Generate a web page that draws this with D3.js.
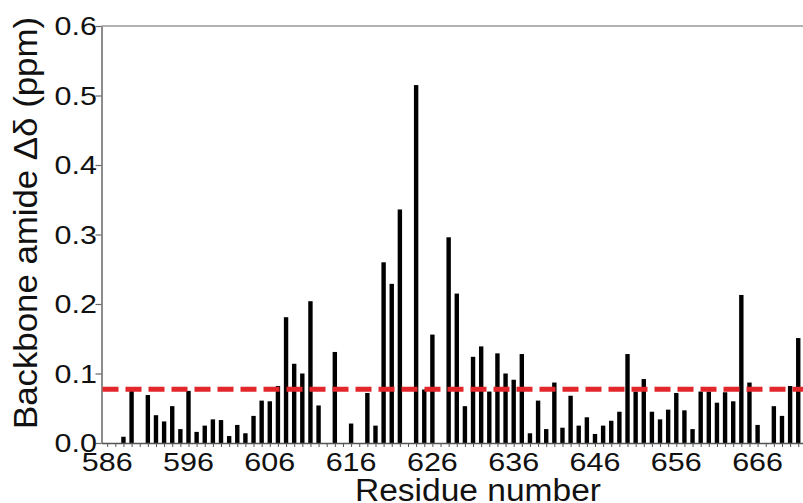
<!DOCTYPE html>
<html>
<head>
<meta charset="utf-8">
<script src="https://cdn.jsdelivr.net/npm/d3@7"></script>
<style>
  body { margin: 0; background: #fff; }
  text { font-family: Arial, "Liberation Sans", sans-serif; fill: #111; }
</style>
</head>
<body>
<div id="chart"></div>
<script>
// residue numbers and their backbone amide chemical shift changes (ppm)
var residues = [588, 589, 591, 592, 593, 594, 595, 596, 597, 598, 599, 600,
    601, 602, 603, 604, 605, 606, 607, 608, 609, 610, 611, 612, 614, 616,
    618, 619, 620, 621, 622, 624, 625, 626, 628, 629, 630, 631, 632, 633,
    634, 635, 636, 637, 638, 639, 640, 641, 642, 643, 644, 645, 646, 647,
    648, 649, 650, 651, 652, 653, 654, 655, 656, 657, 658, 659, 660, 661,
    662, 663, 664, 665, 666, 668, 669, 670, 671];
var shifts = [0.009, 0.075, 0.069, 0.040, 0.031, 0.053, 0.020, 0.075, 0.016, 0.025, 0.034, 0.033,
    0.010, 0.026, 0.014, 0.039, 0.061, 0.060, 0.082, 0.181, 0.114, 0.100, 0.204, 0.054, 0.131, 0.028,
    0.072, 0.025, 0.260, 0.229, 0.336, 0.515, 0.077, 0.156, 0.296, 0.215, 0.053, 0.124, 0.139, 0.074,
    0.129, 0.100, 0.091, 0.128, 0.014, 0.061, 0.020, 0.087, 0.022, 0.068, 0.025, 0.037, 0.013, 0.025,
    0.032, 0.045, 0.128, 0.074, 0.092, 0.045, 0.034, 0.048, 0.072, 0.047, 0.020, 0.074, 0.074, 0.058,
    0.073, 0.060, 0.213, 0.087, 0.026, 0.053, 0.039, 0.082, 0.151];
var xTicks = [586, 596, 606, 616, 626, 636, 646, 656, 666];
var yTicks = [0, 0.1, 0.2, 0.3, 0.4, 0.5, 0.6];
var threshold = 0.0775;

var width = 803, height = 503;
// note: "top" is taken by window.top, so use plot* names
var plotLeft = 101.5, plotTop = 26, plotBottom = 443;

var svg = d3.select("#chart").append("svg")
    .attr("width", width)
    .attr("height", height);

svg.append("rect").attr("width", width).attr("height", height).attr("fill", "#fff");

var x = d3.scaleLinear().domain([585.3, 672]).range([plotLeft, plotLeft + 86.7 * 8.13]);
var y = d3.scaleLinear().domain([0, 0.6]).range([plotBottom, plotTop]);

var data = residues.map(function(r, i) { return {res: r, val: shifts[i]}; });

// bars
var barW = 4.4;
svg.append("g").selectAll("rect")
    .data(data)
    .enter().append("rect")
    .attr("x", function(d) { return x(d.res) - barW / 2; })
    .attr("y", function(d) { return y(d.val); })
    .attr("width", barW)
    .attr("height", function(d) { return y(0) - y(d.val); })
    .attr("fill", "#000");

// top frame line
svg.append("line")
    .attr("x1", plotLeft).attr("x2", width)
    .attr("y1", y(0.6)).attr("y2", y(0.6))
    .attr("stroke", "#999").attr("stroke-width", 1.5);

// y axis
var yAxis = svg.append("g")
    .attr("transform", "translate(" + plotLeft + ",0)")
    .call(d3.axisLeft(y).tickValues(yTicks).tickSize(6).tickFormat("").tickSizeOuter(0));
yAxis.select(".domain").attr("stroke", "#666").attr("stroke-width", 1.5);
yAxis.selectAll(".tick line").attr("stroke", "#666").attr("stroke-width", 1.2);

yTicks.forEach(function(t) {
    svg.append("text")
        .attr("transform", "translate(97," + (y(t) + 9) + ") scale(1.22,1)")
        .attr("text-anchor", "end")
        .style("font-size", "25px")
        .text(d3.format(".1f")(t));
});

// x axis with a minor tick at every residue
var minor = d3.range(586, 672);
var xAxis = svg.append("g")
    .attr("transform", "translate(0," + plotBottom + ")")
    .call(d3.axisBottom(x).tickValues(minor).tickSize(4).tickFormat("").tickSizeOuter(0));
xAxis.select(".domain").attr("stroke", "#555").attr("stroke-width", 1.5);
xAxis.selectAll(".tick line").attr("stroke", "#555").attr("stroke-width", 1);

xTicks.forEach(function(t) {
    svg.append("text")
        .attr("transform", "translate(" + x(t) + ",471) scale(1.22,1)")
        .attr("text-anchor", "middle")
        .style("font-size", "25px")
        .text(t);
});

// threshold line
svg.append("line")
    .attr("x1", plotLeft + 1).attr("x2", width)
    .attr("y1", y(threshold)).attr("y2", y(threshold))
    .attr("stroke", "#e3262b")
    .attr("stroke-width", 5)
    .attr("stroke-dasharray", "16,7");

// axis titles
svg.append("text")
    .attr("x", 478).attr("y", 501)
    .attr("text-anchor", "middle")
    .attr("textLength", 246)
    .attr("lengthAdjust", "spacingAndGlyphs")
    .style("font-size", "31px")
    .text("Residue number");

svg.append("text")
    .attr("transform", "translate(37,223) rotate(-90)")
    .attr("text-anchor", "middle")
    .attr("textLength", 412)
    .attr("lengthAdjust", "spacingAndGlyphs")
    .style("font-size", "34px")
    .text("Backbone amide Δδ (ppm)");
</script>
</body>
</html>
